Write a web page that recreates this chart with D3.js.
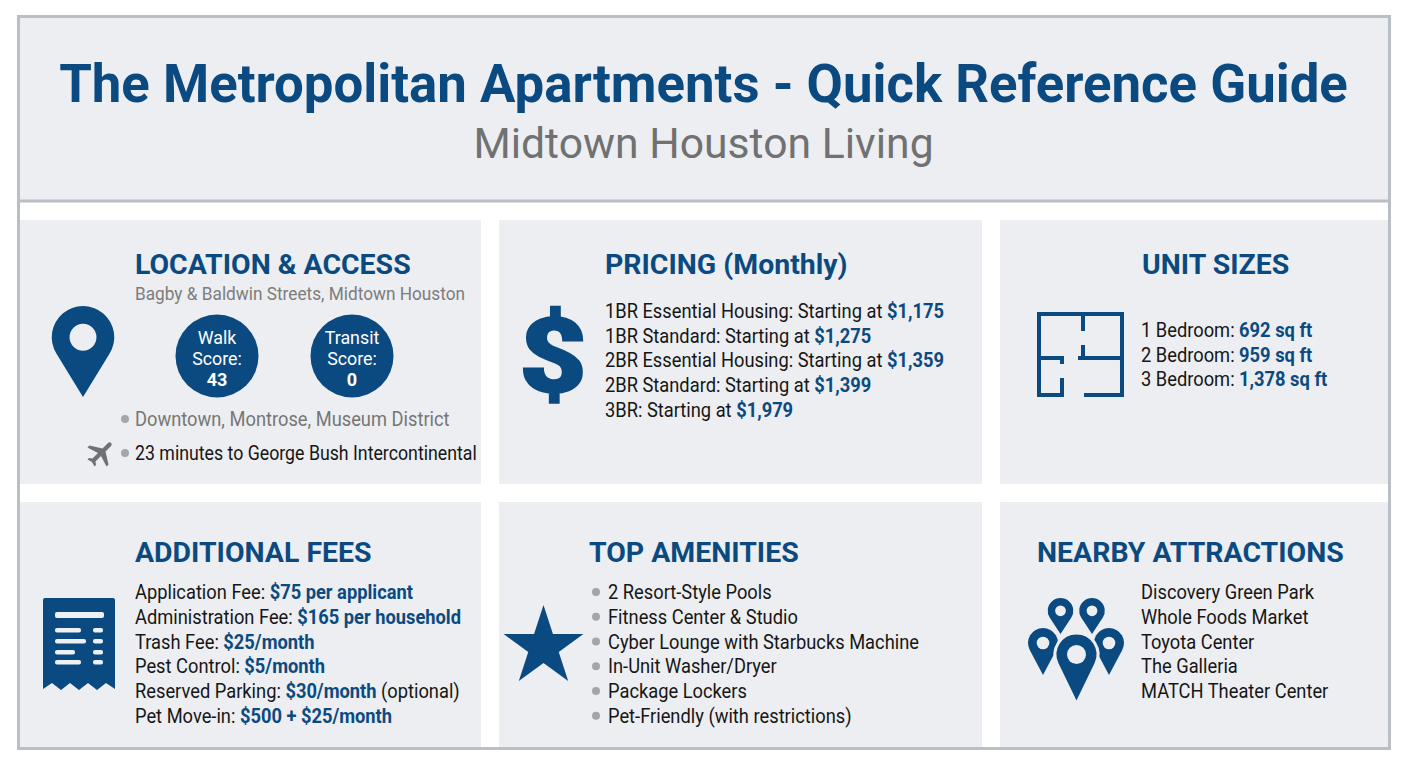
<!DOCTYPE html>
<html>
<head>
<meta charset="utf-8">
<script src="https://cdn.jsdelivr.net/npm/d3@7"></script>
<style>
  html, body { margin: 0; padding: 0; background: #fff; }
  svg { display: block; }
  text { font-family: Roboto, sans-serif; }
</style>
</head>
<body>
<svg id="chart" width="1408" height="768"></svg>
<script>
const titleText = "The Metropolitan Apartments - Quick Reference Guide";
const subtitleText = "Midtown Houston Living";

// each row: plain label, bold value, trailing text
const addressLine = "Bagby & Baldwin Streets, Midtown Houston";
const scoreLabels = [["Walk", "Score:"], ["Transit", "Score:"]];
const scoreValues = [43, 0];
const locationBullets = ["Downtown, Montrose, Museum District", "23 minutes to George Bush Intercontinental"];
const pricingRows = [
  ["1BR Essential Housing: Starting at ", "$1,175", ""],
  ["1BR Standard: Starting at ", "$1,275", ""],
  ["2BR Essential Housing: Starting at ", "$1,359", ""],
  ["2BR Standard: Starting at ", "$1,399", ""],
  ["3BR: Starting at ", "$1,979", ""]
];
const sizeRows = [
  ["1 Bedroom: ", "692 sq ft", ""],
  ["2 Bedroom: ", "959 sq ft", ""],
  ["3 Bedroom: ", "1,378 sq ft", ""]
];
const feeRows = [
  ["Application Fee: ", "$75 per applicant", ""],
  ["Administration Fee: ", "$165 per household", ""],
  ["Trash Fee: ", "$25/month", ""],
  ["Pest Control: ", "$5/month", ""],
  ["Reserved Parking: ", "$30/month", " (optional)"],
  ["Pet Move-in: ", "$500 + $25/month", ""]
];
const amenityRows = ["2 Resort-Style Pools", "Fitness Center & Studio", "Cyber Lounge with Starbucks Machine",
  "In-Unit Washer/Dryer", "Package Lockers", "Pet-Friendly (with restrictions)"];
const attractionRows = ["Discovery Green Park", "Whole Foods Market", "Toyota Center", "The Galleria", "MATCH Theater Center"];

const navy = "#0b4a80";
const ink = "#161616";
const grey = "#767676";
const panelFill = "#eceef1";
const lineGrey = "#b9bfc4";
const squeeze = 0.915; // body font is narrower than stock Roboto

const svg = d3.select("#chart");

// frame and panels
svg.append("rect").attr("x", 18.5).attr("y", 16.5).attr("width", 1371).attr("height", 732)
  .attr("fill", "#fff").attr("stroke", lineGrey).attr("stroke-width", 3);
svg.append("rect").attr("x", 20).attr("y", 18).attr("width", 1368).attr("height", 182).attr("fill", panelFill);
svg.append("line").attr("x1", 20).attr("x2", 1388).attr("y1", 201).attr("y2", 201)
  .attr("stroke", lineGrey).attr("stroke-width", 3);

const colX = d3.scaleOrdinal().domain([0, 1, 2]).range([[20, 481], [499, 982], [1000, 1388]]);
const rowY = d3.scaleOrdinal().domain([0, 1]).range([[220, 484], [502, 747]]);
const cells = d3.cross([0, 1], [0, 1, 2]);
svg.append("g").selectAll("rect").data(cells).join("rect")
  .attr("x", d => colX(d[1])[0]).attr("width", d => colX(d[1])[1] - colX(d[1])[0])
  .attr("y", d => rowY(d[0])[0]).attr("height", d => rowY(d[0])[1] - rowY(d[0])[0])
  .attr("fill", panelFill);

// header
svg.append("text").attr("x", 703.5).attr("y", 102).attr("text-anchor", "middle")
  .attr("font-size", 52.75).attr("font-weight", 700).attr("fill", navy).text(titleText);
svg.append("text").attr("x", 703.5).attr("y", 158).attr("text-anchor", "middle")
  .attr("font-size", 42.7).attr("fill", "#717171").text(subtitleText);

// squeezed text placed at x,y, built from [label, value, tail]
function richText(parent, row, x, y, size, fill) {
  const t = parent.append("text")
    .attr("transform", `translate(${x},${y}) scale(${squeeze},1)`)
    .attr("font-size", size).attr("fill", fill).attr("xml:space", "preserve");
  t.append("tspan").text(row[0]);
  t.append("tspan").attr("fill", navy).attr("font-weight", 700).text(row[1]);
  t.append("tspan").text(row[2]);
  return t;
}

function sectionTitle(x, y, txt) {
  svg.append("text").attr("x", x).attr("y", y).attr("font-size", 28.45).attr("font-weight", 700)
    .attr("fill", navy).text(txt);
}

function rowList(rows, x, firstY, step) {
  const g = svg.append("g");
  const y = d3.scaleLinear().domain([0, 1]).range([firstY, firstY + step]);
  rows.forEach((r, i) => richText(g, typeof r === "string" ? [r, "", ""] : r, x, y(i), 20, ink));
}

// location pin: circle head tangent down to a tip
function pinPath(cx, top, w, h) {
  const r = w / 2, cy = top + r, d = h - r;
  const a = Math.asin(r / d);
  const dx = r * Math.cos(a), dy = r * Math.sin(a);
  return `M${cx},${top + h}L${cx - dx},${cy + dy}A${r},${r} 0 1 1 ${cx + dx},${cy + dy}Z`;
}
function drawPin(cx, top, w, h, holeK, edge) {
  svg.append("path").attr("d", pinPath(cx, top, w, h)).attr("fill", navy)
    .attr("stroke", edge ? panelFill : "none").attr("stroke-width", edge ? 3 : 0);
  svg.append("circle").attr("cx", cx).attr("cy", top + w / 2).attr("r", w / 2 * holeK).attr("fill", panelFill);
}

// LOCATION & ACCESS
sectionTitle(135, 274, "LOCATION & ACCESS");
richText(svg, [addressLine, "", ""], 135, 300, 18.85, "#7d7d7d");
drawPin(83, 306, 62.5, 91, 0.43);
const scoreX = d3.scalePoint().domain([0, 1]).range([217, 352]);
scoreValues.forEach((v, i) => {
  const g = svg.append("g").attr("transform", `translate(${scoreX(i)},356)`);
  g.append("circle").attr("r", 41.5).attr("fill", navy);
  scoreLabels[i].forEach((s, j) => {
    g.append("text").attr("text-anchor", "middle").attr("y", -12 + j * 20.6)
      .attr("transform", "scale(1.02,1)")
      .attr("font-size", 17.5).attr("fill", "#fff").text(s);
  });
  g.append("text").attr("text-anchor", "middle").attr("y", 30)
    .attr("font-size", 18).attr("font-weight", 700).attr("fill", "#fff").text(v);
});
[[419, grey, 20], [453, ink, 19.4]].forEach((d, i) => {
  svg.append("circle").attr("cx", 125).attr("cy", d[0]).attr("r", 4).attr("fill", "#a3a6a8");
  richText(svg, [locationBullets[i], "", ""], 135, d[0] + 7, d[2], d[1]);
});
svg.append("path")
  .attr("d", "M21 16v-2l-8-5V3.5c0-.83-.67-1.5-1.5-1.5S10 2.67 10 3.5V9l-8 5v2l8-2.5V19l-2 1.5V22l3.5-1 3.5 1v-1.5L13 19v-5.5l8 2.5z")
  .attr("transform", "translate(101,453) rotate(45) scale(1.42) translate(-11.5,-12)")
  .attr("fill", "#6f7274");

// PRICING
sectionTitle(605, 274, "PRICING (Monthly)");
svg.append("text").attr("transform", "translate(553,392) scale(1.13,1)").attr("text-anchor", "middle")
  .attr("font-size", 104).attr("font-weight", 900).attr("fill", navy)
  .attr("stroke", navy).attr("stroke-width", 1.5).text("$");
rowList(pricingRows, 605, 318, 24.7);

// UNIT SIZES
sectionTitle(1142, 274, "UNIT SIZES");
const walls = [
  "M1037,314H1122V395H1084", "M1083,312V331", "M1083,345V358", "M1078,358H1122",
  "M1063,395H1039V314", "M1039,358H1062V364", "M1062,378V397"
];
svg.append("g").selectAll("path").data(walls).join("path").attr("d", d => d)
  .attr("fill", "none").attr("stroke", navy).attr("stroke-width", 4);
rowList(sizeRows, 1141, 337, 24.7);

// ADDITIONAL FEES
sectionTitle(135, 562, "ADDITIONAL FEES");
svg.append("path")
  .attr("d", "M45,598H113Q115,598 115,600V689L106,683L97,690L88,683L79,690L70,683L61,690L52,683L43,689V600Q43,598 45,598Z")
  .attr("fill", navy);
const receiptBars = [[55, 612, 49, 6], [55, 628, 26, 4.5], [93, 628, 10, 4.5], [55, 639, 31, 4.5], [93, 639, 10, 4.5],
  [55, 650, 20, 4.5], [93, 650, 10, 4.5], [55, 660, 26, 4.5], [93, 660, 10, 4.5]];
svg.append("g").selectAll("rect").data(receiptBars).join("rect")
  .attr("x", d => d[0]).attr("y", d => d[1]).attr("width", d => d[2]).attr("height", d => d[3])
  .attr("rx", 2).attr("fill", "#eef1f4");
rowList(feeRows, 135, 599, 24.75);

// TOP AMENITIES
sectionTitle(589, 562, "TOP AMENITIES");
svg.append("path").attr("d", d3.symbol(d3.symbolStar, 1980))
  .attr("transform", "translate(543.5,647)").attr("fill", navy);
svg.append("g").selectAll("circle").data(amenityRows).join("circle")
  .attr("cx", 596).attr("cy", (d, i) => 592 + i * 24.75).attr("r", 4).attr("fill", "#a3a6a8");
rowList(amenityRows, 608, 599, 24.75);

// NEARBY ATTRACTIONS
sectionTitle(1037, 562, "NEARBY ATTRACTIONS");
drawPin(1060.5, 598, 25.6, 36, 0.42);
drawPin(1092, 598, 25.6, 36, 0.42);
drawPin(1043, 628, 30, 47, 0.42);
drawPin(1109, 628, 30, 47, 0.42);
drawPin(1076.5, 633, 43, 71, 0.44, true);
rowList(attractionRows, 1141, 599, 24.75);
</script>
</body>
</html>
